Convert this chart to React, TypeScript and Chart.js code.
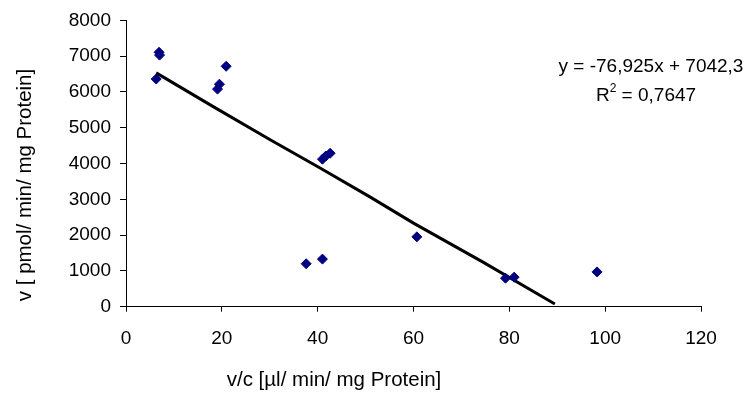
import React, { useEffect, useRef } from "react";
import { Chart, registerables } from "chart.js";

Chart.register(...registerables);

// Measured points: v/c [µl/ min/ mg Protein] vs v [pmol/ min/ mg Protein]
const vcValues = [6.9, 7.0, 6.3, 20.9, 19.1, 19.5, 41.0, 41.7, 42.6, 37.6, 41.0, 60.7, 79.2, 81.0, 98.3];
const vValues = [7110, 7030, 6361, 6718, 6080, 6218, 4123, 4211, 4288, 1201, 1330, 1952, 797, 825, 973];

// Trend line as drawn in the picture
const trendX = [6.3, 18.2, 30.0, 40.5, 50.9, 60.0, 74.6, 89.5];
const trendY = [6534, 5591, 4673, 3876, 3070, 2336, 1237, 74];

const xTicks = [0, 20, 40, 60, 80, 100, 120];
const yTicks = [0, 1000, 2000, 3000, 4000, 5000, 6000, 7000, 8000];

const X_TITLE = "v/c [µl/ min/ mg Protein]";
const Y_TITLE = "v [ pmol/ min/ mg Protein]";
const EQUATION = "y = -76,925x + 7042,3";
const R2_VALUE = " = 0,7647";

const FONT = '"Liberation Sans", Arial, sans-serif';

const textPlugin = {
  id: "texts",
  afterDraw(chart: any) {
    const ctx = chart.ctx as CanvasRenderingContext2D;
    ctx.save();
    ctx.fillStyle = "#000";
    ctx.textBaseline = "middle";
    ctx.textAlign = "center";
    ctx.font = `20.5px ${FONT}`;
    ctx.fillText(X_TITLE, 334, 380);
    ctx.save();
    ctx.translate(25, 185);
    ctx.rotate(-Math.PI / 2);
    ctx.fillText(Y_TITLE, 0, 0);
    ctx.restore();

    ctx.font = `19px ${FONT}`;
    ctx.fillText(EQUATION, 651, 67);
    // R² line
    const rW = ctx.measureText("R").width;
    ctx.font = `12px ${FONT}`;
    const sW = ctx.measureText("2").width;
    ctx.font = `19px ${FONT}`;
    const vW = ctx.measureText(R2_VALUE).width;
    const total = rW + sW + vW;
    let x = 646 - total / 2;
    ctx.textAlign = "left";
    ctx.fillText("R", x, 96);
    x += rW;
    ctx.font = `12px ${FONT}`;
    ctx.fillText("2", x, 89);
    x += sW;
    ctx.font = `19px ${FONT}`;
    ctx.fillText(R2_VALUE, x, 96);
    ctx.restore();
  },
};

export default function App() {
  const ref = useRef<HTMLCanvasElement | null>(null);

  useEffect(() => {
    document.body.style.margin = "0";
    const canvas = ref.current;
    if (!canvas) return;
    const chart = new Chart(canvas, {
      type: "scatter",
      data: {
        datasets: [
          {
            label: "Messwerte",
            data: vcValues.map((x, i) => ({ x, y: vValues[i] })),
            pointStyle: "rectRot",
            pointRadius: 5,
            pointBackgroundColor: "#000080",
            pointBorderColor: "#000080",
            pointBorderWidth: 1,
            showLine: false,
          },
          {
            label: "Trend",
            data: trendX.map((x, i) => ({ x, y: trendY[i] })),
            showLine: true,
            borderColor: "#000",
            borderWidth: 3,
            pointRadius: 0,
            tension: 0,
            fill: false,
          },
        ],
      },
      options: {
        animation: false,
        responsive: false,
        events: [],
        layout: { padding: { top: 15.7, right: 44, bottom: 0, left: 0 } },
        plugins: { legend: { display: false }, tooltip: { enabled: false }, title: { display: false } },
        scales: {
          x: {
            type: "linear",
            min: 0,
            max: 120,
            afterBuildTicks: (scale: any) => {
              scale.ticks = xTicks.map((v) => ({ value: v }));
            },
            afterFit: (scale: any) => {
              scale.height = 89.3;
            },
            grid: { drawOnChartArea: false, drawTicks: true, tickLength: 5, color: "#000", tickColor: "#000" },
            border: { display: true, color: "#000", width: 1 },
            ticks: {
              color: "#000",
              font: { family: FONT, size: 19 },
              padding: 16,
              maxRotation: 0,
              callback: (v: any) => String(v),
            },
          },
          y: {
            type: "linear",
            min: 0,
            max: 8000,
            afterBuildTicks: (scale: any) => {
              scale.ticks = yTicks.map((v) => ({ value: v }));
            },
            afterFit: (scale: any) => {
              scale.width = 126;
            },
            grid: { drawOnChartArea: false, drawTicks: true, tickLength: 6, color: "#000", tickColor: "#000" },
            border: { display: true, color: "#000", width: 1 },
            ticks: {
              color: "#000",
              font: { family: FONT, size: 19 },
              padding: 9,
              callback: (v: any) => String(v),
            },
          },
        },
      },
      plugins: [textPlugin],
    });
    return () => chart.destroy();
  }, []);

  return (
    <div style={{ width: 745, height: 396, background: "#fff" }}>
      <canvas ref={ref} width={745} height={396} style={{ display: "block", width: 745, height: 396 }} />
    </div>
  );
}
